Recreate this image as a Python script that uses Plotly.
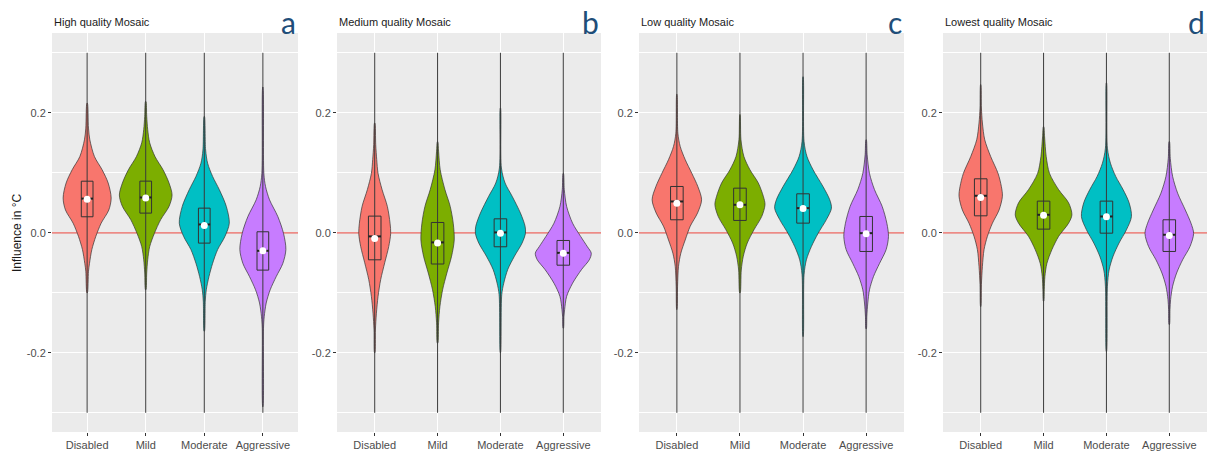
import plotly.graph_objects as go
from plotly.subplots import make_subplots

# ---- categories, panels, colours -------------------------------------------
CATEGORIES = ["Disabled", "Mild", "Moderate", "Aggressive"]
CAT_POS = [1, 2, 3, 4]
PANEL_TITLES = ["High quality Mosaic", "Medium quality Mosaic",
                "Low quality Mosaic", "Lowest quality Mosaic"]
PANEL_LETTERS = ["a", "b", "c", "d"]
FILL_COLORS = ["#F8766D", "#7CAE00", "#00BFC4", "#C77CFF"]
BOX_HALF_WIDTH = 0.1

# ---- violin density profiles: influence (°C) and half-width (category units) --
HIGH_Y = [
    [0.216, 0.1745, 0.155, 0.127, 0.105, 0.083, 0.058, 0.038, 0.016, -0.006, -0.028, -0.051, -0.064, -0.1],
    [0.219, 0.194, 0.172, 0.15, 0.127, 0.105, 0.083, 0.063, 0.044, 0.022, -0.001, -0.023, -0.045, -0.067, -0.095],
    [0.194, 0.138, 0.116, 0.094, 0.072, 0.044, 0.016, -0.006, -0.028, -0.051, -0.073, -0.095, -0.114, -0.164],
    [0.243, 0.099, 0.077, 0.055, 0.027, -0.001, -0.028, -0.051, -0.073, -0.095, -0.117, -0.14, -0.159, -0.29],
]
HIGH_HW = [
    [0.004, 0.023, 0.046, 0.125, 0.256, 0.359, 0.41, 0.37, 0.239, 0.148, 0.08, 0.04, 0.023, 0.004],
    [0.004, 0.017, 0.034, 0.068, 0.159, 0.296, 0.398, 0.45, 0.398, 0.256, 0.148, 0.068, 0.034, 0.017, 0.004],
    [0.003, 0.023, 0.057, 0.142, 0.256, 0.376, 0.427, 0.353, 0.228, 0.142, 0.08, 0.034, 0.017, 0.003],
    [0.002, 0.017, 0.046, 0.114, 0.256, 0.353, 0.393, 0.341, 0.228, 0.125, 0.057, 0.023, 0.011, 0.002],
]
MEDIUM_Y = [
    [0.183, 0.147, 0.122, 0.099, 0.072, 0.044, 0.016, -0.001, -0.023, -0.05, -0.078, -0.106, -0.134, -0.162, -0.2],
    [0.152, 0.136, 0.105, 0.072, 0.044, 0.016, -0.012, -0.039, -0.067, -0.095, -0.123, -0.15, -0.184],
    [0.208, 0.108, 0.083, 0.061, 0.033, 0.011, -0.001, -0.017, -0.039, -0.061, -0.084, -0.103, -0.2],
    [0.099, 0.072, 0.044, 0.016, -0.006, -0.023, -0.034, -0.045, -0.061, -0.084, -0.106, -0.128, -0.139, -0.159],
]
MEDIUM_HW = [
    [0.003, 0.016, 0.032, 0.053, 0.117, 0.201, 0.244, 0.254, 0.223, 0.159, 0.095, 0.053, 0.027, 0.011, 0.003],
    [0.003, 0.016, 0.042, 0.117, 0.201, 0.249, 0.265, 0.223, 0.148, 0.08, 0.037, 0.016, 0.004],
    [0.002, 0.016, 0.074, 0.186, 0.318, 0.392, 0.398, 0.345, 0.223, 0.117, 0.053, 0.021, 0.002],
    [0.003, 0.016, 0.053, 0.148, 0.276, 0.382, 0.445, 0.414, 0.292, 0.148, 0.053, 0.021, 0.011, 0.003],
]
LOW_Y = [
    [0.231, 0.166, 0.144, 0.122, 0.099, 0.077, 0.055, 0.033, 0.011, -0.012, -0.034, -0.056, -0.089, -0.128],
    [0.197, 0.155, 0.127, 0.105, 0.083, 0.061, 0.047, 0.027, 0.005, -0.017, -0.039, -0.062, -0.1],
    [0.26, 0.152, 0.127, 0.105, 0.077, 0.055, 0.041, 0.022, -0.001, -0.023, -0.045, -0.07, -0.173],
    [0.155, 0.13, 0.099, 0.072, 0.044, 0.016, -0.006, -0.028, -0.051, -0.073, -0.095, -0.117, -0.139, -0.16],
]
LOW_HW = [
    [0.002, 0.016, 0.053, 0.132, 0.238, 0.333, 0.392, 0.328, 0.212, 0.132, 0.063, 0.026, 0.011, 0.002],
    [0.002, 0.016, 0.063, 0.159, 0.291, 0.37, 0.397, 0.344, 0.222, 0.116, 0.053, 0.021, 0.004],
    [0.002, 0.016, 0.063, 0.159, 0.317, 0.423, 0.45, 0.37, 0.238, 0.132, 0.053, 0.016, 0.002],
    [0.003, 0.016, 0.053, 0.132, 0.254, 0.328, 0.354, 0.317, 0.212, 0.116, 0.053, 0.026, 0.011, 0.003],
]
LOWEST_Y = [
    [0.247, 0.208, 0.183, 0.155, 0.127, 0.099, 0.077, 0.061, 0.038, 0.016, -0.006, -0.028, -0.056, -0.086, -0.123],
    [0.177, 0.16, 0.127, 0.099, 0.072, 0.05, 0.03, 0.016, -0.006, -0.028, -0.051, -0.073, -0.095, -0.114],
    [0.25, 0.141, 0.116, 0.094, 0.072, 0.05, 0.027, 0.005, -0.017, -0.039, -0.062, -0.089, -0.198],
    [0.152, 0.124, 0.094, 0.066, 0.038, 0.016, -0.001, -0.023, -0.045, -0.067, -0.089, -0.111, -0.128, -0.153],
]
LOWEST_HW = [
    [0.002, 0.011, 0.027, 0.064, 0.159, 0.276, 0.329, 0.345, 0.292, 0.186, 0.106, 0.053, 0.027, 0.011, 0.002],
    [0.003, 0.016, 0.042, 0.095, 0.239, 0.398, 0.451, 0.398, 0.239, 0.133, 0.053, 0.021, 0.011, 0.003],
    [0.002, 0.016, 0.064, 0.148, 0.265, 0.361, 0.398, 0.318, 0.201, 0.106, 0.042, 0.016, 0.002],
    [0.003, 0.016, 0.053, 0.133, 0.255, 0.345, 0.387, 0.329, 0.212, 0.117, 0.053, 0.021, 0.011, 0.003],
]

# ---- box-plot summaries and means (°C) ---------------------------------------
HIGH_Q1 = [0.0267, 0.0328, -0.0172, -0.0622]
HIGH_MEDIAN = [0.057, 0.0589, 0.0139, -0.030]
HIGH_Q3 = [0.086, 0.0861, 0.0411, 0.0017]
HIGH_MEAN = [0.056, 0.058, 0.0122, -0.030]

MEDIUM_Q1 = [-0.045, -0.052, -0.0233, -0.054]
MEDIUM_MEDIAN = [-0.006, -0.016, 0.0006, -0.0334]
MEDIUM_Q3 = [0.0278, 0.0172, 0.0233, -0.0128]
MEDIUM_MEAN = [-0.0095, -0.017, -0.0006, -0.034]

LOW_Q1 = [0.0217, 0.0206, 0.0161, -0.0311]
LOW_MEDIAN = [0.0522, 0.0467, 0.0411, -0.0006]
LOW_Q3 = [0.0772, 0.0744, 0.065, 0.0272]
LOW_MEAN = [0.0494, 0.0467, 0.0406, -0.0017]

LOWEST_Q1 = [0.0283, 0.0061, -0.0006, -0.0311]
LOWEST_MEDIAN = [0.0617, 0.03, 0.0272, -0.0033]
LOWEST_Q3 = [0.09, 0.0528, 0.0528, 0.0217]
LOWEST_MEAN = [0.0589, 0.0294, 0.0267, -0.0044]

# full data span (values squished to the ±0.3 limits)
DATA_MIN = [-0.3, -0.3, -0.3, -0.3]
DATA_MAX = [0.3, 0.3, 0.3, 0.3]

Y_TICKS = [-0.2, 0.0, 0.2]
Y_TICK_TEXT = ["-0.2", "0.0", "0.2"]
Y_MINOR = [-0.3, -0.1, 0.1, 0.3]

PANELS = [
    (HIGH_Y, HIGH_HW, HIGH_Q1, HIGH_MEDIAN, HIGH_Q3, HIGH_MEAN),
    (MEDIUM_Y, MEDIUM_HW, MEDIUM_Q1, MEDIUM_MEDIAN, MEDIUM_Q3, MEDIUM_MEAN),
    (LOW_Y, LOW_HW, LOW_Q1, LOW_MEDIAN, LOW_Q3, LOW_MEAN),
    (LOWEST_Y, LOWEST_HW, LOWEST_Q1, LOWEST_MEDIAN, LOWEST_Q3, LOWEST_MEAN),
]

W, H = 1214, 452
# panel extents in pixels (left, right) and shared top/bottom
PANEL_X_PX = [(52, 298), (337, 601), (639, 904), (943, 1207)]
PANEL_TOP_PX, PANEL_BOTTOM_PX = 33, 432

fig = make_subplots(rows=1, cols=4)

for p, (ys, hws, q1, med, q3, mean) in enumerate(PANELS):
    col = p + 1
    # red reference line at zero
    fig.add_trace(go.Scatter(x=[0.4, 4.6], y=[0, 0], mode="lines",
                             line=dict(color="#E8635C", width=1.2),
                             hoverinfo="skip"), row=1, col=col)
    # violins
    for c, cx in enumerate(CAT_POS):
        yv, hv = ys[c], hws[c]
        xs = [cx + w for w in hv] + [cx - w for w in reversed(hv)]
        yy = list(yv) + list(reversed(yv))
        fig.add_trace(go.Scatter(
            x=xs + [xs[0]], y=yy + [yy[0]], mode="lines", fill="toself",
            fillcolor=FILL_COLORS[c],
            line=dict(color="#333333", width=0.7, shape="spline", smoothing=0.85),
            hoverinfo="skip"), row=1, col=col)
    # thin data-range lines
    lx, ly = [], []
    for c, cx in enumerate(CAT_POS):
        lx += [cx, cx, None]
        ly += [DATA_MIN[c], DATA_MAX[c], None]
    fig.add_trace(go.Scatter(x=lx, y=ly, mode="lines",
                             line=dict(color="#3a3a3a", width=1),
                             hoverinfo="skip"), row=1, col=col)
    # boxes (q1..q3) and medians
    bx, by, mx, my = [], [], [], []
    for c, cx in enumerate(CAT_POS):
        x0, x1 = cx - BOX_HALF_WIDTH, cx + BOX_HALF_WIDTH
        bx += [x0, x1, x1, x0, x0, None]
        by += [q1[c], q1[c], q3[c], q3[c], q1[c], None]
        mx += [x0, x1, None]
        my += [med[c], med[c], None]
    fig.add_trace(go.Scatter(x=bx, y=by, mode="lines",
                             line=dict(color="#333333", width=1),
                             hoverinfo="skip"), row=1, col=col)
    fig.add_trace(go.Scatter(x=mx, y=my, mode="lines",
                             line=dict(color="#222222", width=2),
                             hoverinfo="skip"), row=1, col=col)
    # means
    fig.add_trace(go.Scatter(x=CAT_POS, y=mean, mode="markers",
                             marker=dict(color="white", size=7),
                             hoverinfo="skip"), row=1, col=col)

layout = dict(
    width=W, height=H, margin=dict(l=0, r=0, t=0, b=0),
    paper_bgcolor="white", plot_bgcolor="#EBEBEB", showlegend=False,
    font=dict(family="Liberation Sans, Arial, sans-serif", size=11, color="#4D4D4D"),
)
y_dom = [1 - PANEL_BOTTOM_PX / H, 1 - PANEL_TOP_PX / H]
for p in range(4):
    sfx = "" if p == 0 else str(p + 1)
    l, r = PANEL_X_PX[p]
    layout["xaxis" + sfx] = dict(
        domain=[l / W, r / W], range=[0.4, 4.6], tickvals=CAT_POS, ticktext=CATEGORIES,
        showgrid=True, gridcolor="white", gridwidth=1.1, zeroline=False,
        ticks="outside", ticklen=3, tickcolor="#333333", tickwidth=1,
        tickfont=dict(size=11, color="#4D4D4D"), showline=False)
    layout["yaxis" + sfx] = dict(
        domain=y_dom, range=[-0.332, 0.333], tickvals=Y_TICKS, ticktext=Y_TICK_TEXT,
        showgrid=True, gridcolor="white", gridwidth=1.1, zeroline=False,
        ticks="outside", ticklen=3, tickcolor="#333333", tickwidth=1,
        tickfont=dict(size=11, color="#4D4D4D"), showline=False,
        minor=dict(tickvals=Y_MINOR, showgrid=True, gridcolor="white", gridwidth=0.8, ticks=""))
fig.update_layout(**layout)

ann = []
for p in range(4):
    l, r = PANEL_X_PX[p]
    ann.append(dict(text=PANEL_TITLES[p], xref="paper", yref="paper",
                    x=l / W, y=1 - 22 / H, xanchor="left", yanchor="middle",
                    showarrow=False,
                    font=dict(size=11, color="#1a1a1a",
                              family="Liberation Sans, Arial, sans-serif")))
    ann.append(dict(text=PANEL_LETTERS[p], xref="paper", yref="paper",
                    x=r / W, y=1 - 22 / H, xanchor="right", yanchor="middle",
                    showarrow=False,
                    font=dict(size=30, color="#1F4E79", family="Lato, sans-serif")))
ann.append(dict(text="Influence in °C", xref="paper", yref="paper",
                x=17 / W, y=1 - 233 / H, xanchor="center", yanchor="middle",
                textangle=-90, showarrow=False,
                font=dict(size=12, color="#1a1a1a",
                          family="Liberation Sans, Arial, sans-serif")))
fig.update_layout(annotations=ann)

fig.write_html("out.html")
